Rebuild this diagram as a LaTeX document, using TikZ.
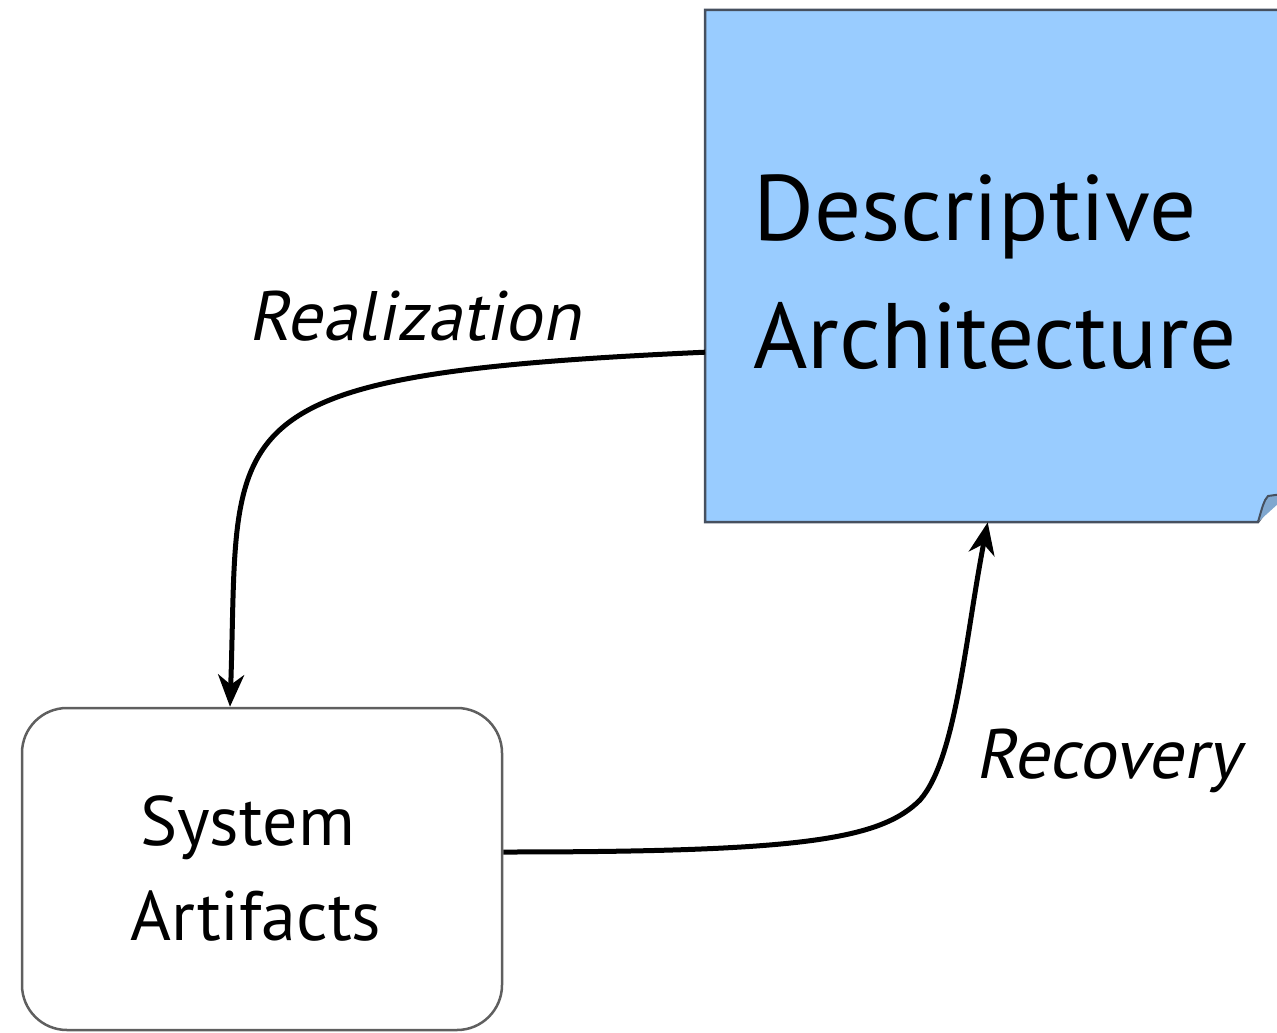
\documentclass[tikz,border=0pt]{standalone}
\usepackage{fontspec}
\setmainfont{PT Sans}
\newfontfamily\oblfont[FakeSlant=0.2]{PT Sans}
\usetikzlibrary{arrows.meta}
\definecolor{boxblue}{RGB}{153,204,255}
\definecolor{boxedge}{RGB}{70,80,95}
\definecolor{sysedge}{RGB}{95,95,95}
\begin{document}
\begin{tikzpicture}[x=1pt,y=-1pt,
  conn/.style={line width=5pt,-{Stealth[length=32pt,width=26pt,inset=10pt]}},
  lbl/.style={font=\fontsize{70}{76}\oblfont,inner sep=0pt,anchor=base west},
  big/.style={font=\fontsize{93}{128}\selectfont,inner sep=0pt,anchor=base west},
  mid/.style={font=\fontsize{70}{95}\selectfont,inner sep=0pt,anchor=base west}]
\useasboundingbox (0,0) rectangle (1277,1033);
% blue note box
\node (desc) [minimum width=585pt, minimum height=512pt, anchor=north west, inner sep=0pt] at (705,10) {};
\draw[fill=boxblue, draw=boxedge, line width=2.5pt] (705,10) -- (1290,10) -- (1290,478) -- (1258,522) -- (705,522) -- cycle;
\draw[fill=boxblue!70!boxedge, draw=boxedge, line width=2pt] (1258,522) .. controls (1262,508) and (1264,500) .. (1268,496) -- (1290,493);
% system artifacts
\node (sys) [draw=sysedge, line width=2.5pt, rounded corners=45pt, minimum width=480pt, minimum height=322pt, inner sep=0pt] at (262,869) {};
% texts
\node[big] (t1) at (753,240) {Descriptive};
\node[big] (t2) at (753,368) {Architecture};
\node[mid] (t3) at (140,845) {System};
\node[mid] (t4) at (130,940) {Artifacts};
\node[lbl] (l1) at (248,340) {Realization};
\node[lbl] (l2) at (975,778) {Recovery};
% connectors
\draw[conn] ([yshift=-86pt]desc.west) .. controls (200,375) and (240,420) .. ([xshift=-32pt]sys.north);
\draw[conn] ([yshift=17pt]sys.east) .. controls (800,852) and (880,840) .. (920,800) .. controls (956,759) and (965,640) .. ([xshift=-10pt]desc.south);
\end{tikzpicture}
\end{document}
